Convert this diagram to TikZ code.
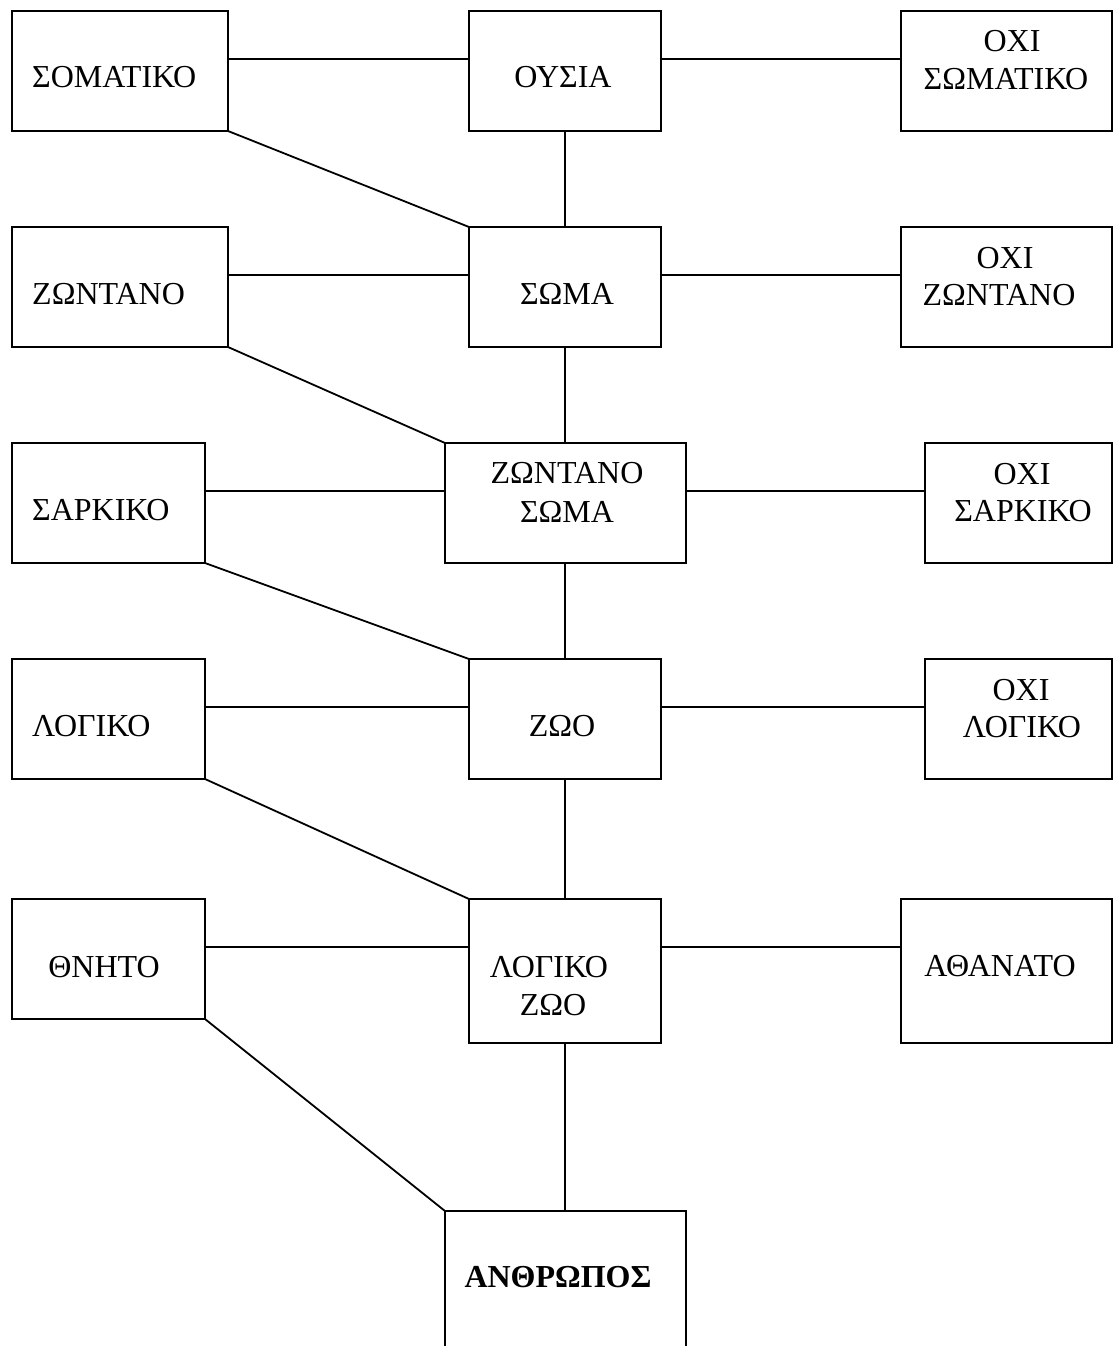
\documentclass[tikz,border=0pt]{standalone}
\usepackage{fontspec}
\setmainfont{Liberation Serif}
\usetikzlibrary{calc}
\begin{document}
\begin{tikzpicture}[x=1pt,y=-1pt,
  box/.style={draw, line width=1.8pt, inner sep=0pt, outer sep=0pt},
  sz/.style 2 args={minimum width=#1pt, minimum height=#2pt},
  link/.style={line width=1.8pt},
  lbl/.style={anchor=base, inner sep=0pt, font=\fontsize{32}{37}\selectfont},
  lbll/.style={lbl, anchor=base west}]
\useasboundingbox (0,0) rectangle (1113,1354);

% boxes, row by row
\node[box, sz={216}{120}] (somatiko)    at (120,71)    {};
\node[box, sz={192}{120}] (ousia)       at (565,71)    {};
\node[box, sz={211}{120}] (oxisomatiko) at (1006.5,71) {};

\node[box, sz={216}{120}] (zontano)     at (120,287)    {};
\node[box, sz={192}{120}] (soma)        at (565,287)    {};
\node[box, sz={211}{120}] (oxizontano)  at (1006.5,287) {};

\node[box, sz={193}{120}] (sarkiko)     at (108.5,503)  {};
\node[box, sz={241}{120}] (zontanosoma) at (565.5,503)  {};
\node[box, sz={187}{120}] (oxisarkiko)  at (1018.5,503) {};

\node[box, sz={193}{120}] (logiko)      at (108.5,719)  {};
\node[box, sz={192}{120}] (zoo)         at (565,719)    {};
\node[box, sz={187}{120}] (oxilogiko)   at (1018.5,719) {};

\node[box, sz={193}{120}] (thnito)      at (108.5,959)  {};
\node[box, sz={192}{144}] (logikozoo)   at (565,971)    {};
\node[box, sz={211}{144}] (athanato)    at (1006.5,971) {};

% the last box runs off the lower edge
\begin{scope}
  \clip (0,0) rectangle (1113,1345);
  \node[box, sz={241}{189}] (anthropos) at (565.5,1305.5) {};
\end{scope}

% labels
\node[lbll] at (32,88)  {ΣΟΜΑΤΙΚΟ};
\node[lbl]  at (563,88) {ΟΥΣΙΑ};
\node[lbl]  at (1012,52) {ΟΧΙ};
\node[lbl]  at (1006,89) {ΣΩΜΑΤΙΚΟ};

\node[lbll] at (32,304)  {ΖΩΝΤΑΝΟ};
\node[lbl]  at (567,304) {ΣΩΜΑ};
\node[lbl]  at (1005,268) {ΟΧΙ};
\node[lbl]  at (999,305)  {ΖΩΝΤΑΝΟ};

\node[lbll] at (32,520)  {ΣΑΡΚΙΚΟ};
\node[lbl]  at (567,483) {ΖΩΝΤΑΝΟ};
\node[lbl]  at (567,522) {ΣΩΜΑ};
\node[lbl]  at (1022,484) {ΟΧΙ};
\node[lbl]  at (1023,521) {ΣΑΡΚΙΚΟ};

\node[lbll] at (32,736)  {ΛΟΓΙΚΟ};
\node[lbl]  at (562,736) {ΖΩΟ};
\node[lbl]  at (1021,700) {ΟΧΙ};
\node[lbl]  at (1022,737) {ΛΟΓΙΚΟ};

\node[lbl]  at (104,977)  {ΘΝΗΤΟ};
\node[lbl]  at (549,977)  {ΛΟΓΙΚΟ};
\node[lbl]  at (553,1015) {ΖΩΟ};
\node[lbl]  at (1000,976) {ΑΘΑΝΑΤΟ};

\node[lbl, font=\fontsize{32}{37}\selectfont\bfseries] at (558,1287) {ΑΝΘΡΩΠΟΣ};

% horizontal links
\foreach \l/\c/\r in {somatiko/ousia/oxisomatiko, zontano/soma/oxizontano,
                      sarkiko/zontanosoma/oxisarkiko, logiko/zoo/oxilogiko,
                      thnito/logikozoo/athanato} {
  \draw[link] ([yshift=-48pt]\l.north east) -- ([yshift=-48pt]\c.north west);
  \draw[link] ([yshift=-48pt]\c.north east) -- ([yshift=-48pt]\r.north west);
}

% vertical spine
\draw[link] (ousia.south) -- (soma.north);
\draw[link] (soma.south) -- (soma.south |- zontanosoma.north);
\draw[link] (soma.south |- zontanosoma.south) -- (zoo.north);
\draw[link] (zoo.south) -- (logikozoo.north);
\draw[link] (logikozoo.south) -- (logikozoo.south |- anthropos.north);

% diagonals
\draw[link] (somatiko.south east) -- (soma.north west);
\draw[link] (zontano.south east) -- (zontanosoma.north west);
\draw[link] (sarkiko.south east) -- (zoo.north west);
\draw[link] (logiko.south east) -- (logikozoo.north west);
\draw[link] (thnito.south east) -- (anthropos.north west);
\end{tikzpicture}
\end{document}
